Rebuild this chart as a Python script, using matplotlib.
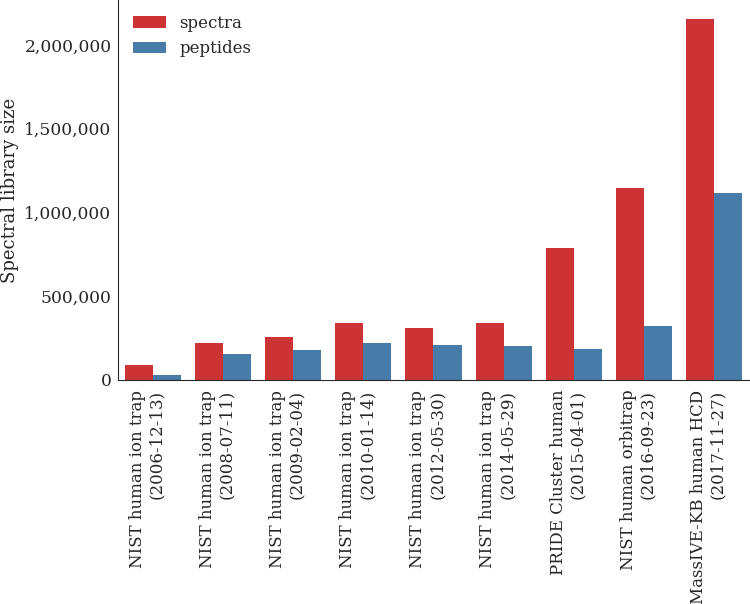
import matplotlib
matplotlib.use('Agg')
import matplotlib.pyplot as plt
import matplotlib.ticker as mticker
import matplotlib.transforms as mtransforms
import numpy as np
import pandas as pd
import seaborn as sns

libraries = ['NIST human ion trap\n(2006-12-13)',
             'NIST human ion trap\n(2008-07-11)',
             'NIST human ion trap\n(2009-02-04)',
             'NIST human ion trap\n(2010-01-14)',
             'NIST human ion trap\n(2012-05-30)',
             'NIST human ion trap\n(2014-05-29)',
             'PRIDE Cluster human\n(2015-04-01)',
             'NIST human orbitrap\n(2016-09-23)',
             'MassIVE-KB human HCD\n(2017-11-27)']
spectra = [90000, 223000, 259000, 342000, 308000, 338000, 790000, 1148000, 2153000]
peptides = [30000, 153000, 177000, 221000, 207000, 204000, 187000, 324000, 1116000]

sns.set_style('white')
plt.rcParams['font.family'] = ['DejaVu Serif']

df = pd.DataFrame({'library': libraries * 2,
                   'size': spectra + peptides,
                   'kind': ['spectra'] * len(spectra) + ['peptides'] * len(peptides)})

fig = plt.figure(figsize=(7.5, 6.04), dpi=100)
ax = fig.add_axes([0.157, 0.371, 0.842, 0.629])
sns.barplot(data=df, x='library', y='size', hue='kind', palette='Set1',
            saturation=0.75, ax=ax, linewidth=0)

ax.set_xlabel('')
ax.set_ylabel('Spectral library size', fontsize=13, labelpad=3.5)
ax.yaxis.set_major_formatter(mticker.FuncFormatter(lambda v, p: '{:,.0f}'.format(v)))
ax.set_yticks([0, 500000, 1000000, 1500000, 2000000])
ax.set_ylim(0, 2268000)
ax.set_xlim(-0.5, 8.5)
ax.tick_params(axis='y', labelsize=12.3, pad=4.5, length=0)
ax.tick_params(axis='x', length=0, pad=7)
ax.set_xticks(range(len(libraries)))
ax.set_xticklabels(libraries, rotation=90, fontsize=12, ma='right')
# shift the rotated labels a little left like the original
shift = mtransforms.ScaledTranslation(-6 / 100, 0, fig.dpi_scale_trans)
for lbl in ax.get_xticklabels():
    lbl.set_transform(lbl.get_transform() + shift)
ax.legend(loc='upper left', frameon=False, fontsize=12, title=None)
sns.despine(ax=ax)

fig.savefig('out.png', dpi=100)
